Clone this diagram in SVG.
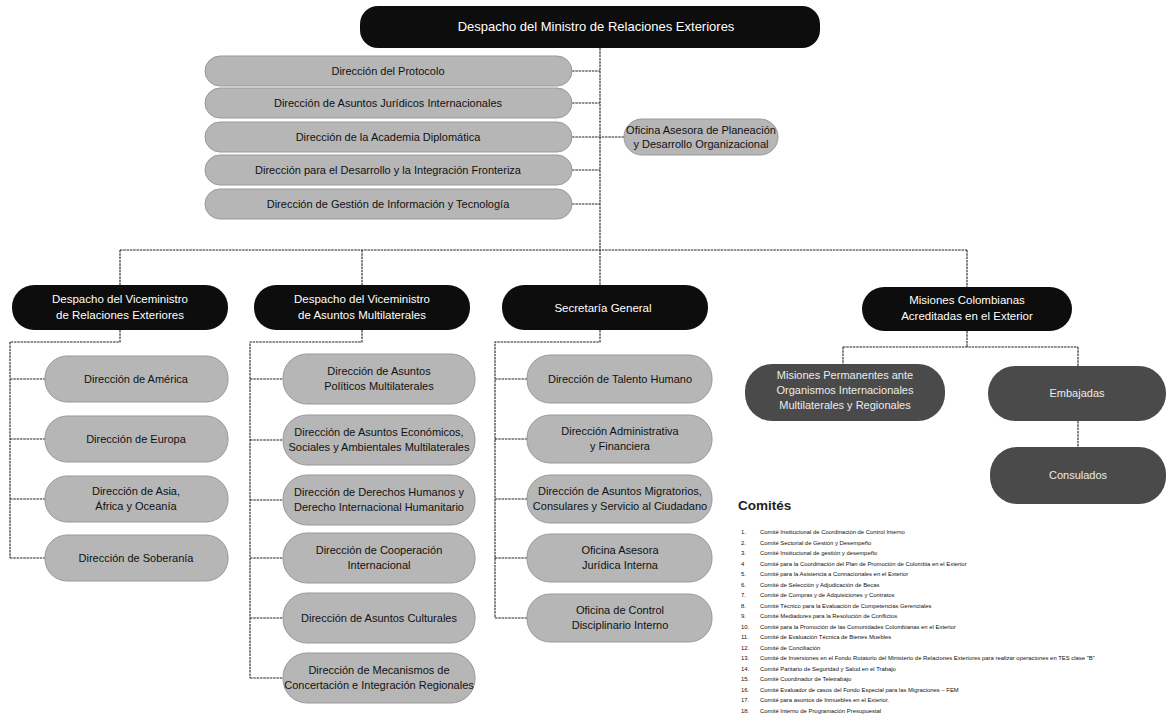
<svg xmlns="http://www.w3.org/2000/svg" width="1168" height="728" viewBox="0 0 1168 728">
<style>
text{font-family:"Liberation Sans",Arial,sans-serif;text-anchor:middle}
.b{fill:#0d0d0d}
.g{fill:#b6b6b6;stroke:#999;stroke-width:1}
.d{fill:#4a4a4a}
.w{fill:#fff;font-size:11.5px}
.k{fill:#111;font-size:11px}
.e{fill:#ececec;font-size:11px}
#connectors path{stroke:#222;stroke-width:1.1;fill:none;stroke-dasharray:2.5 0.8}
.l text{font-size:5.9px;text-anchor:start;fill:#111}
</style>
<rect width="1168" height="728" fill="#fff"/>
<g id="connectors">
<path d="M600 48V285"/>
<path d="M572 71H600M572 103H600M572 137H624M572 170H600M572 204H600"/>
<path d="M120 250H967M120 250V285M362 250V285M967 250V287"/>
<path d="M120 330V342H10V558M10 379H45M10 439H45M10 499H45M10 558H45"/>
<path d="M362 330V342H250V678M250 379H283M250 440H283M250 500H283M250 558H283M250 618H283M250 678H283"/>
<path d="M600 330V342H495V618M495 379H527M495 439H527M495 499H527M495 558H527M495 618H527"/>
<path d="M967 331V347M843 347H1078M843 347V364M1078 347V366M1078 421V447"/>
</g>
<g id="n-ministro"><rect class="b" x="360" y="6" width="460" height="42" rx="18"/><text class="w" x="596" y="31" style="font-size:13px">Despacho del Ministro de Relaciones Exteriores</text></g>
<g id="n-protocolo"><rect class="g" x="205" y="56" width="367" height="30" rx="15"/><text class="k" x="388" y="75">Dirección del Protocolo</text></g>
<g id="n-juridicos"><rect class="g" x="205" y="88" width="367" height="30" rx="15"/><text class="k" x="388" y="107">Dirección de Asuntos Jurídicos Internacionales</text></g>
<g id="n-academia"><rect class="g" x="205" y="122" width="367" height="30" rx="15"/><text class="k" x="388" y="141">Dirección de la Academia Diplomática</text></g>
<g id="n-fronteriza"><rect class="g" x="205" y="155" width="367" height="30" rx="15"/><text class="k" x="388" y="174">Dirección para el Desarrollo y la Integración Fronteriza</text></g>
<g id="n-gestion"><rect class="g" x="205" y="189" width="367" height="30" rx="15"/><text class="k" x="388" y="208">Dirección de Gestión de Información y Tecnología</text></g>
<g id="n-planeacion"><rect class="g" x="624" y="119" width="154" height="36" rx="18"/><text class="k" x="701" y="134">Oficina Asesora de Planeación</text><text class="k" x="701" y="148">y Desarrollo Organizacional</text></g>
<g id="n-vre"><rect class="b" x="12" y="285" width="216" height="45" rx="22"/><text class="w" x="120" y="303">Despacho del Viceministro</text><text class="w" x="120" y="319">de Relaciones Exteriores</text></g>
<g id="n-vam"><rect class="b" x="254" y="285" width="216" height="45" rx="22"/><text class="w" x="362" y="303">Despacho del Viceministro</text><text class="w" x="362" y="319">de Asuntos Multilaterales</text></g>
<g id="n-sg"><rect class="b" x="502" y="285" width="206" height="45" rx="22"/><text class="w" x="603" y="312">Secretaría General</text></g>
<g id="n-misiones"><rect class="b" x="862" y="287" width="210" height="44" rx="22"/><text class="w" x="967" y="304">Misiones Colombianas</text><text class="w" x="967" y="320">Acreditadas en el Exterior</text></g>
<g id="n-america"><rect class="g" x="45" y="356" width="183" height="46" rx="22"/><text class="k" x="136" y="383">Dirección de América</text></g>
<g id="n-europa"><rect class="g" x="45" y="416" width="183" height="46" rx="22"/><text class="k" x="136" y="443">Dirección de Europa</text></g>
<g id="n-asia"><rect class="g" x="45" y="476" width="183" height="46" rx="22"/><text class="k" x="136" y="495">Dirección de Asia,</text><text class="k" x="136" y="510">África y Oceanía</text></g>
<g id="n-soberania"><rect class="g" x="45" y="535" width="183" height="46" rx="22"/><text class="k" x="136" y="562">Dirección de Soberanía</text></g>
<g id="n-politicos"><rect class="g" x="283" y="354" width="192" height="50" rx="24"/><text class="k" x="379" y="375">Dirección de Asuntos</text><text class="k" x="379" y="390">Políticos Multilaterales</text></g>
<g id="n-economicos"><rect class="g" x="283" y="415" width="192" height="50" rx="24"/><text class="k" x="379" y="436">Dirección de Asuntos Económicos,</text><text class="k" x="379" y="451">Sociales y Ambientales Multilaterales</text></g>
<g id="n-ddhh"><rect class="g" x="283" y="475" width="192" height="50" rx="24"/><text class="k" x="379" y="496">Dirección de Derechos Humanos y</text><text class="k" x="379" y="511">Derecho Internacional Humanitario</text></g>
<g id="n-cooperacion"><rect class="g" x="283" y="533" width="192" height="50" rx="24"/><text class="k" x="379" y="554">Dirección de Cooperación</text><text class="k" x="379" y="569">Internacional</text></g>
<g id="n-culturales"><rect class="g" x="283" y="593" width="192" height="50" rx="24"/><text class="k" x="379" y="622">Dirección de Asuntos Culturales</text></g>
<g id="n-mecanismos"><rect class="g" x="283" y="653" width="192" height="50" rx="24"/><text class="k" x="379" y="674">Dirección de Mecanismos de</text><text class="k" x="379" y="689">Concertación e Integración Regionales</text></g>
<g id="n-talento"><rect class="g" x="527" y="355" width="185" height="48" rx="23"/><text class="k" x="620" y="383">Dirección de Talento Humano</text></g>
<g id="n-administrativa"><rect class="g" x="527" y="415" width="185" height="48" rx="23"/><text class="k" x="620" y="435">Dirección Administrativa</text><text class="k" x="620" y="450">y Financiera</text></g>
<g id="n-migratorios"><rect class="g" x="527" y="475" width="185" height="48" rx="23"/><text class="k" x="620" y="495">Dirección de Asuntos Migratorios,</text><text class="k" x="620" y="510">Consulares y Servicio al Ciudadano</text></g>
<g id="n-juridica"><rect class="g" x="527" y="534" width="185" height="48" rx="23"/><text class="k" x="620" y="554">Oficina Asesora</text><text class="k" x="620" y="569">Jurídica Interna</text></g>
<g id="n-control"><rect class="g" x="527" y="594" width="185" height="48" rx="23"/><text class="k" x="620" y="614">Oficina de Control</text><text class="k" x="620" y="629">Disciplinario Interno</text></g>
<g id="n-permanentes"><rect class="d" x="745" y="364" width="200" height="57" rx="27"/><text class="e" x="845" y="379">Misiones Permanentes ante</text><text class="e" x="845" y="394">Organismos Internacionales</text><text class="e" x="845" y="409">Multilaterales y Regionales</text></g>
<g id="n-embajadas"><rect class="d" x="988" y="366" width="178" height="55" rx="27"/><text class="e" x="1077" y="397">Embajadas</text></g>
<g id="n-consulados"><rect class="d" x="990" y="447" width="176" height="57" rx="27"/><text class="e" x="1078" y="479">Consulados</text></g>
<g id="comites">
<text x="738" y="510" style="font-size:13.5px;font-weight:bold;text-anchor:start;fill:#222">Comités</text>
<g class="l">
<text x="741" y="534">1.</text><text x="760" y="534">Comité Institucional de Coordinación de Control Interno</text>
<text x="741" y="544.5">2.</text><text x="760" y="544.5">Comité Sectorial de Gestión y Desempeño</text>
<text x="741" y="555">3.</text><text x="760" y="555">Comité Institucional de gestión y desempeño</text>
<text x="741" y="565.5">4</text><text x="760" y="565.5">Comité para la Coordinación del Plan de Promoción de Colombia en el Exterior</text>
<text x="741" y="576">5.</text><text x="760" y="576">Comité para la Asistencia a Connacionales en el Exterior</text>
<text x="741" y="586.5">6.</text><text x="760" y="586.5">Comité de Selección y Adjudicación de Becas</text>
<text x="741" y="597">7.</text><text x="760" y="597">Comité de Compras y de Adquisiciones y Contratos</text>
<text x="741" y="607.5">8.</text><text x="760" y="607.5">Comité Técnico para la Evaluación de Competencias Gerenciales</text>
<text x="741" y="618">9.</text><text x="760" y="618">Comité Mediadores para la Resolución de Conflictos</text>
<text x="741" y="628.5">10.</text><text x="760" y="628.5">Comité para la Promoción de las Comunidades Colombianas en el Exterior</text>
<text x="741" y="639">11.</text><text x="760" y="639">Comité de Evaluación Técnica de Bienes Muebles</text>
<text x="741" y="649.5">12.</text><text x="760" y="649.5">Comité de Conciliación</text>
<text x="741" y="660">13.</text><text x="760" y="660">Comité de Inversiones en el Fondo Rotatorio del Ministerio de Relaciones Exteriores para realizar operaciones en TES clase "B"</text>
<text x="741" y="670.5">14.</text><text x="760" y="670.5">Comité Paritario de Seguridad y Salud en el Trabajo</text>
<text x="741" y="681">15.</text><text x="760" y="681">Comité Coordinador de Teletrabajo</text>
<text x="741" y="691.5">16.</text><text x="760" y="691.5">Comité Evaluador de casos del Fondo Especial para las Migraciones – FEM</text>
<text x="741" y="702">17.</text><text x="760" y="702">Comité para asuntos de Inmuebles en el Exterior.</text>
<text x="741" y="712.5">18.</text><text x="760" y="712.5">Comité Interno de Programación Presupuestal</text>
</g>
</g>
</svg>
